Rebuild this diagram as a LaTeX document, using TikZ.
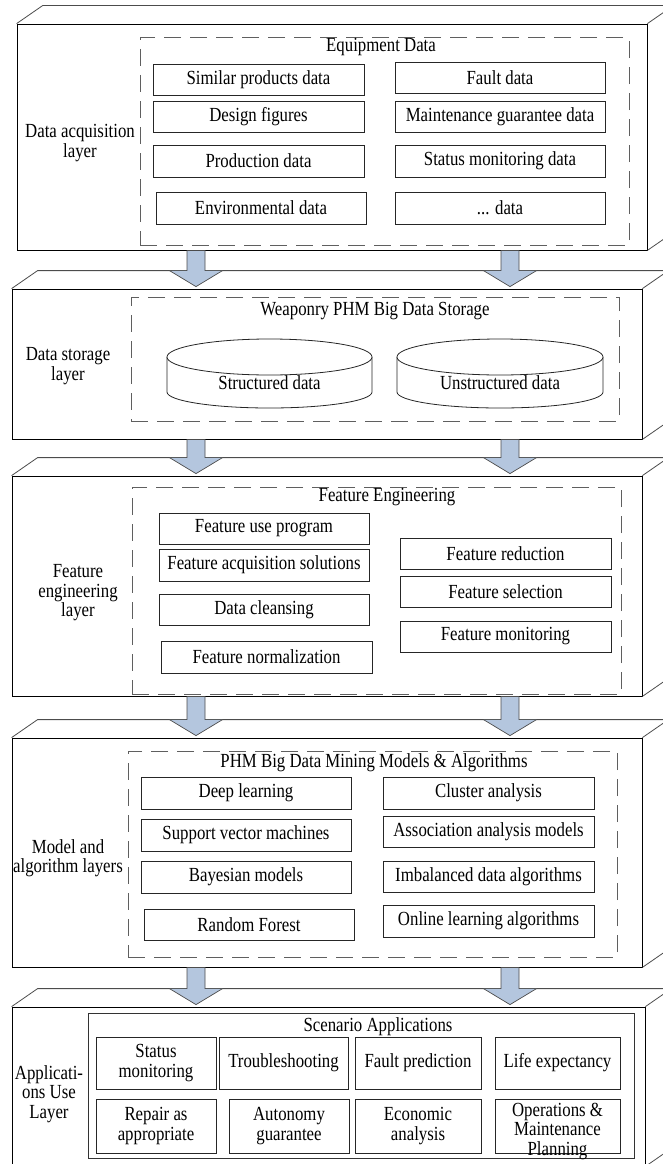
\documentclass[tikz,border=0pt]{standalone}
\usepackage{fontspec}
\setmainfont{Liberation Serif}[FakeStretch=0.84]
\usetikzlibrary{calc}

\definecolor{flowblue}{RGB}{180,198,222}
\definecolor{dashgray}{RGB}{95,95,95}

\tikzset{
  layerface/.style={draw=black, line width=0.8pt, fill=white, inner sep=0pt, rectangle},
  depthline/.style={draw=black!70, line width=0.8pt},
  groupbox/.style={draw=dashgray, line width=1pt, dash pattern=on 17pt off 9pt},
  appgroup/.style={draw=black!80, line width=0.8pt},
  ibox/.style={draw=black!85, line width=0.8pt, inner sep=0pt, rectangle, align=center},
  caption/.style={inner sep=0pt, align=center},
  flowarrow/.style={fill=flowblue, draw=black!70, line width=0.7pt},
  drum/.style={draw=black!85, line width=0.8pt, fill=white}
}

% item box given by its corners (x1,y1)-(x2,y2), y measured downwards
\newcommand\ibox[6]{%
  \node[ibox, minimum width={#4-#2}, minimum height={#5-#3}]
    (#1) at ({(#2+#4)/2},{(#3+#5)/2}) {#6};}

% dashed group frame
\newcommand\gbox[5]{%
  \node[groupbox, inner sep=0pt, minimum width={#4-#2}, minimum height={#5-#3}]
    (#1) at ({(#2+#4)/2},{(#3+#5)/2}) {};}

% layer slab: front face plus top and right faces
\newcommand\layerslab[5]{%
  \node[layerface, minimum width={#4-#2}, minimum height={#5-#3}]
    (#1) at ({(#2+#4)/2},{(#3+#5)/2}) {};
  \draw[depthline] (#1.north west) -- ++(26,-18)
     -- ($(#1.north east)+(26,-18)$) -- ($(#1.south east)+(26,-18)$)
     -- (#1.south east);
  \draw[depthline] (#1.north east) -- ++(26,-18);}

% block arrow at abscissa #1 from slab #2 down onto slab #3
\newcommand\flowdown[3]{%
  \path let \p1=(#2.south), \p2=(#3.north) in
    [flowarrow] ({#1*1pt-9pt},\y1) -- ({#1*1pt-9pt},{\y2+18pt})
      -- ({#1*1pt-26.5pt},{\y2+18pt}) -- ({#1*1pt},{\y2+2pt})
      -- ({#1*1pt+26.5pt},{\y2+18pt}) -- ({#1*1pt+9pt},{\y2+18pt})
      -- ({#1*1pt+9pt},\y1) -- cycle;}

% storage drum between x1 and x2, top ellipse at yt, bottom at yb
\newcommand\drumshape[6]{%
  \draw[drum] (#2,#4) -- (#2,#5)
     arc[start angle=180, end angle=360, x radius={(#3-#2)/2*1pt}, y radius=16pt]
     -- (#3,#4);
  \draw[drum] ({(#2+#3)/2},#4) ellipse [x radius={(#3-#2)/2*1pt}, y radius=18pt];
  \node[caption] (#1) at ({(#2+#3)/2},{#5-9}) {#6};}

\begin{document}
\begin{tikzpicture}[x=1pt, y=-1pt, font=\fontsize{20}{19.5}\selectfont]
\useasboundingbox (0,0) rectangle (663,1164);

% ---------- slabs ----------
\layerslab{L1}{17}{24}{647}{250}
\layerslab{L2}{12}{289}{642}{439}
\layerslab{L3}{12}{476}{642}{696}
\layerslab{L4}{12}{738}{642}{967}
\layerslab{L5}{12}{1007}{645}{1166}

% ---------- arrows between slabs ----------
\flowdown{196}{L1}{L2}
\flowdown{510}{L1}{L2}
\flowdown{196}{L2}{L3}
\flowdown{510}{L2}{L3}
\flowdown{196}{L3}{L4}
\flowdown{510}{L3}{L4}
\flowdown{196}{L4}{L5}
\flowdown{510}{L4}{L5}

% ---------- data acquisition layer ----------
\node[caption] (n1) at (80,143) {Data acquisition\\layer};
\gbox{g1}{140}{38}{629}{245}
\node[caption] (t1) at (381,47) {Equipment Data};
\ibox{a1}{153}{64}{364}{95}{Similar products data}
\ibox{a2}{153}{101}{364}{132}{Design figures}
\ibox{a3}{153}{145}{364}{177}{Production data}
\ibox{a4}{156}{192}{366}{224}{Environmental data}
\ibox{b1}{395}{62}{605}{93}{Fault data}
\ibox{b2}{395}{101}{605}{132}{Maintenance guarantee data}
\ibox{b3}{395}{145}{605}{177}{Status monitoring data}
\ibox{b4}{395}{192}{605}{224}{... data}

% ---------- data storage layer ----------
\node[caption] (n2) at (68,366) {Data storage\\layer};
\gbox{g2}{131}{297}{619}{421}
\node[caption] (t2) at (375,311) {Weaponry PHM Big Data Storage};
\drumshape{c1}{167}{372}{357}{392}{Structured data}
\drumshape{c2}{397}{603}{357}{392}{Unstructured data}

% ---------- feature engineering layer ----------
\node[caption] (n3) at (78,593) {Feature\\engineering\\layer};
\gbox{g3}{132}{487}{621}{694}
\node[caption] (t3) at (387,497) {Feature Engineering};
\ibox{e1}{159}{513}{369}{544}{Feature use program}
\ibox{e2}{159}{549}{369}{581}{Feature acquisition solutions}
\ibox{e3}{159}{594}{369}{625}{Data cleansing}
\ibox{e4}{161}{641}{372}{673}{Feature normalization}
\ibox{r1}{400}{538}{611}{569}{Feature reduction}
\ibox{r2}{400}{576}{611}{607}{Feature selection}
\ibox{r3}{400}{621}{611}{652}{Feature monitoring}

% ---------- model and algorithm layer ----------
\node[caption] (n4) at (68,858) {Model and\\algorithm layers};
\gbox{g4}{128}{751}{617}{957}
\node[caption] (t4) at (374,763) {PHM Big Data Mining Models \& Algorithms};
\ibox{m1}{141}{777}{351}{809}{Deep learning}
\ibox{m2}{141}{819}{351}{851}{Support vector machines}
\ibox{m3}{141}{861}{351}{893}{Bayesian models}
\ibox{m4}{144}{909}{354}{940}{Random Forest}
\ibox{k1}{383}{777}{594}{809}{Cluster analysis}
\ibox{k2}{383}{816}{594}{847}{Association analysis models}
\ibox{k3}{383}{861}{594}{892}{Imbalanced data algorithms}
\ibox{k4}{383}{905}{594}{937}{Online learning algorithms}

% ---------- applications layer ----------
\node[caption] (n5) at (49,1094) {Applicati-\\ons Use\\Layer};
\node[appgroup, inner sep=0pt, minimum width=546, minimum height=145]
  (g5) at (361,1085.5) {};
\node[caption] (t5) at (378,1027) {Scenario Applications};
\ibox{p1}{96}{1037}{216}{1089}{Status\\monitoring}
\ibox{p2}{219}{1037}{348}{1089}{Troubleshooting}
\ibox{p3}{355}{1037}{481}{1089}{Fault prediction}
\ibox{p4}{495}{1037}{620}{1089}{Life expectancy}
\ibox{q1}{96}{1099}{216}{1153}{Repair as\\appropriate}
\ibox{q2}{229}{1099}{349}{1153}{Autonomy\\guarantee}
\ibox{q3}{355}{1099}{481}{1153}{Economic\\analysis}
\ibox{q4}{495}{1099}{620}{1153}{}
\node[caption] (q4t) at (557.5,1131) {Operations \&\\Maintenance\\Planning};
\end{tikzpicture}
\end{document}
